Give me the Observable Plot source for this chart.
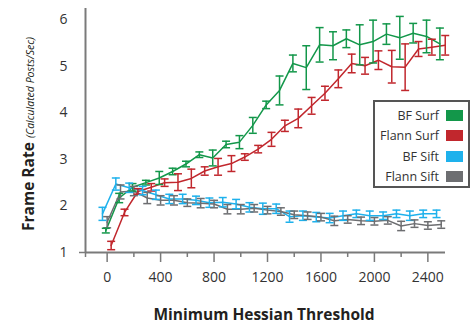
<!DOCTYPE html>
<html>
<head>
<meta charset="utf-8">
<script src="https://cdn.jsdelivr.net/npm/d3@7"></script>
<script src="https://cdn.jsdelivr.net/npm/@observablehq/plot@0.6"></script>
<style>
  body { margin: 0; background: #fff; font-family: "Open Sans", sans-serif; }
  #wrap { position: relative; width: 473px; height: 324px; overflow: hidden; }
  .ytitle { position: absolute; left: 28px; top: 134px; transform: translate(-50%, -50%) rotate(-90deg); white-space: nowrap; color: #231f20; line-height: 1; }
  .ytitle b { font-size: 15.5px; font-weight: 700; }
  .ytitle i { font-size: 10.5px; font-weight: 400; }
  .xtitle { position: absolute; left: 264px; top: 315px; transform: translate(-50%, -50%); white-space: nowrap; color: #231f20; font-size: 15.5px; font-weight: 700; line-height: 1; }
  .legend { position: absolute; left: 373px; top: 100px; width: 97px; height: 88px; border: 2px solid #555; background: #fff; box-sizing: border-box; }
  .legend .row { position: absolute; right: 5px; display: flex; align-items: center; height: 16px; font-size: 12.5px; color: #333; }
  .legend .sw { width: 17px; height: 11px; margin-left: 7px; }
</style>
</head>
<body>
<div id="wrap"></div>
<script>
// ---- data ----
const thresholds = [0,100,200,300,400,500,600,700,800,900,1000,1100,1200,1300,1400,1500,1600,1700,1800,1900,2000,2100,2200,2300,2400,2500];

const seriesNames = ["BF Surf", "Flann Surf", "BF Sift", "Flann Sift"];
const seriesColors = ["#13974a", "#c1272d", "#1eb1ec", "#6d6e71"];
const seriesDodge = [-10, 30, -35, 0]; // small horizontal offset in threshold units

const bfSurf    = [1.47,2.17,2.40,2.50,2.60,2.74,2.90,3.10,3.03,3.32,3.37,3.73,4.17,4.48,5.06,4.97,5.46,5.44,5.59,5.46,5.53,5.69,5.61,5.71,5.64,5.48];
const bfSurfErr = [0.05,0.10,0.08,0.05,0.14,0.07,0.06,0.06,0.17,0.07,0.14,0.17,0.08,0.31,0.18,0.47,0.37,0.30,0.19,0.43,0.46,0.22,0.46,0.21,0.35,0.34];

const flannSurf    = [1.15,1.86,2.31,2.40,2.50,2.51,2.59,2.75,2.84,2.91,3.05,3.22,3.43,3.72,3.88,4.15,4.42,4.73,5.06,5.01,5.13,4.99,4.98,5.37,5.41,5.45];
const flannSurfErr = [0.09,0.07,0.06,0.08,0.08,0.18,0.20,0.09,0.18,0.17,0.07,0.08,0.15,0.12,0.20,0.18,0.15,0.19,0.20,0.18,0.20,0.35,0.50,0.16,0.17,0.21];

const bfSift    = [1.83,2.47,2.39,2.33,2.24,2.15,2.15,2.12,2.07,2.08,2.04,1.97,1.94,1.94,1.77,1.79,1.76,1.74,1.79,1.83,1.79,1.79,1.83,1.79,1.83,1.83];
const bfSiftErr = [0.14,0.13,0.10,0.09,0.10,0.10,0.10,0.09,0.10,0.10,0.10,0.10,0.12,0.10,0.12,0.10,0.10,0.10,0.10,0.08,0.10,0.08,0.08,0.10,0.08,0.08];

const flannSift    = [1.65,2.30,2.32,2.17,2.12,2.12,2.07,2.06,2.04,1.93,1.93,1.95,1.91,1.88,1.81,1.79,1.76,1.68,1.71,1.68,1.67,1.69,1.57,1.62,1.58,1.60];
const flannSiftErr = [0.12,0.15,0.10,0.12,0.10,0.10,0.08,0.10,0.08,0.10,0.10,0.08,0.08,0.08,0.08,0.08,0.08,0.10,0.08,0.08,0.08,0.08,0.10,0.08,0.08,0.08];

const xTicksMajor = [0,400,800,1200,1600,2000,2400];
const xTicksMinor = [200,600,1000,1400,1800,2200];
const yTicks = [1,2,3,4,5,6];
const xDomain = [-162, 2532];
const yDomain = [1, 6.24];

// ---- build table ----
const values = [bfSurf, flannSurf, bfSift, flannSift];
const errs = [bfSurfErr, flannSurfErr, bfSiftErr, flannSiftErr];
const rows = [];
values.forEach((vals, s) => {
  vals.forEach((v, i) => {
    rows.push({series: seriesNames[s], x: thresholds[i] + seriesDodge[s], y: v, lo: v - errs[s][i], hi: v + errs[s][i]});
  });
});

const capSymbol = {
  draw(context, size) {
    const r = Math.sqrt(size / Math.PI);
    context.moveTo(-r, 0);
    context.lineTo(r, 0);
  }
};

const axisColor = "#7a7a7a";

const chart = Plot.plot({
  width: 473,
  height: 324,
  marginLeft: 85,
  marginRight: 28,
  marginTop: 8,
  marginBottom: 72,
  style: {fontFamily: "Open Sans, sans-serif", fontSize: "14px", color: "#333", background: "#fff"},
  x: {domain: xDomain, label: null},
  y: {domain: yDomain, label: null},
  color: {domain: seriesNames, range: seriesColors},
  marks: [
    Plot.ruleY([yDomain[0]], {stroke: axisColor, strokeWidth: 2}),
    Plot.ruleX([xDomain[0]], {stroke: axisColor, strokeWidth: 2}),
    Plot.axisX({ticks: xTicksMajor, tickSize: 10, tickPadding: 10, stroke: axisColor, strokeWidth: 1.5, fill: "#333", fontSize: 14, tickFormat: d => String(d)}),
    Plot.axisX({ticks: xTicksMinor, tickSize: 5, text: null, stroke: axisColor, strokeWidth: 1.5}),
    Plot.axisX({ticks: [xDomain[0]], tickSize: 5, text: null, stroke: axisColor, strokeWidth: 1.5}),
    Plot.axisY({ticks: yTicks, tickSize: 0, tickPadding: 18, fill: "#333", fontSize: 14, tickFormat: d => String(d)}),
    Plot.axisY({ticks: [yDomain[0]], tickSize: 6, text: null, stroke: axisColor, strokeWidth: 1.5}),
    Plot.line(rows, {x: "x", y: "y", z: "series", stroke: "series", strokeWidth: 1.5}),
    Plot.ruleX(rows, {x: "x", y1: "lo", y2: "hi", stroke: "series", strokeWidth: 1.5}),
    Plot.dot(rows, {x: "x", y: "lo", r: 4, symbol: capSymbol, stroke: "series", strokeWidth: 1.5, fill: "none"}),
    Plot.dot(rows, {x: "x", y: "hi", r: 4, symbol: capSymbol, stroke: "series", strokeWidth: 1.5, fill: "none"})
  ]
});

const wrap = document.getElementById("wrap");
wrap.appendChild(chart);

const yt = document.createElement("div");
yt.className = "ytitle";
yt.innerHTML = "<b>Frame Rate</b> <i>(Calculated Posts/Sec)</i>";
wrap.appendChild(yt);

const xt = document.createElement("div");
xt.className = "xtitle";
xt.textContent = "Minimum Hessian Threshold";
wrap.appendChild(xt);

const lg = document.createElement("div");
lg.className = "legend";
const rowTops = [5, 25, 46, 66];
seriesNames.forEach((name, i) => {
  const r = document.createElement("div");
  r.className = "row";
  r.style.top = rowTops[i] + "px";
  const t = document.createElement("span");
  t.textContent = name;
  const sw = document.createElement("span");
  sw.className = "sw";
  sw.style.background = seriesColors[i];
  r.appendChild(t);
  r.appendChild(sw);
  lg.appendChild(r);
});
wrap.appendChild(lg);
</script>
</body>
</html>
